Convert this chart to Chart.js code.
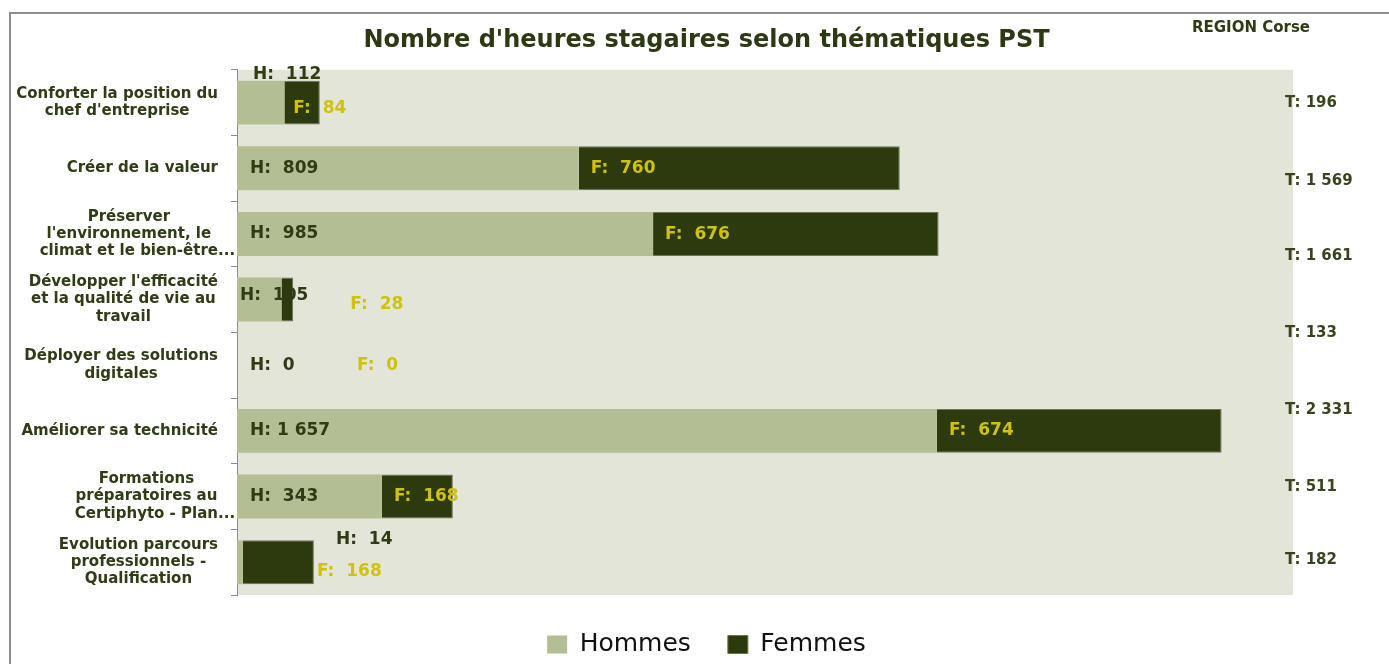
<!DOCTYPE html>
<html>
<head>
<meta charset="utf-8">
<script src="https://cdn.jsdelivr.net/npm/chart.js@4.4.1/dist/chart.umd.min.js"></script>
<style>
  html, body { margin: 0; padding: 0; background: #ffffff; }
  #wrap { position: relative; width: 1389px; height: 664px; overflow: hidden; }
  #frame { position: absolute; left: 9px; top: 12px; right: -10px; bottom: -10px;
           border-top: 2px solid #8e8e8e; border-left: 2px solid #8e8e8e; }
  canvas { position: absolute; left: 0; top: 0; }
</style>
</head>
<body>
<div id="wrap">
  <div id="frame"></div>
  <canvas id="c" width="1389" height="664"></canvas>
</div>
<script>
// ---- data ----
const categories = [
  ["Conforter la position du", "chef d'entreprise"],
  ["Créer de la valeur"],
  ["Préserver", "l'environnement, le", "climat et le bien-être..."],
  ["Développer l'efficacité", "et la qualité de vie au", "travail"],
  ["Déployer des solutions", "digitales"],
  ["Améliorer sa technicité"],
  ["Formations", "préparatoires au", "Certiphyto - Plan..."],
  ["Evolution parcours", "professionnels -", "Qualification"]
];
const seriesNames = ["Hommes", "Femmes"];
const hommes = [112, 809, 985, 105, 0, 1657, 343, 14];
const femmes = [84, 760, 676, 28, 0, 674, 168, 168];
const labelPrefixes = ["H:", "F:", "T:"];
const xMin = 0;
const xMax = 2500;
const chartTitle = "Nombre d'heures stagaires selon thématiques PST";
const regionLabel = "REGION Corse";

// ---- label placement tweaks (pixels, relative to the library-computed bar positions) ----
const hLabelDx = [3, 0, 0, -10, 0, 0, 0, 86];
const hLabelDy = [-28, 0, 0, -4, 0, 0, 0, -23];
const fLabelDx = [-3, 0, 0, 57, 108, 0, 0, 62];
const fLabelDy = [6, 0, 1, 5, 0, 0, 0, 9];
const tLabelDy = [0, 13, 22, 34, 0, -21, -9, -2];

// ---- styles ----
const colH = "#b4be94";
const colF = "#2c3a0e";
const plotBg = "#e3e5d8";
const darkText = "#2e3b15";
const yellowText = "#d0c20c";
const FONT = "'DejaVu Sans', sans-serif";

function fmt(v) {
  const s = String(Math.round(v)).replace(/\B(?=(\d{3})+(?!\d))/g, " ");
  return v < 1000 ? " " + s : s;
}

const decorPlugin = {
  id: "decor",
  beforeDraw(chart) {
    const { ctx, chartArea: a } = chart;
    ctx.save();
    ctx.fillStyle = plotBg;
    ctx.fillRect(a.left, a.top, a.right - a.left, a.bottom - a.top);
    ctx.restore();
  },
  afterDraw(chart) {
    const { ctx, chartArea: a } = chart;
    const yScale = chart.scales.y;
    ctx.save();
    // region label
    ctx.font = "bold 15px " + FONT;
    ctx.fillStyle = darkText;
    ctx.textAlign = "left";
    ctx.textBaseline = "middle";
    ctx.fillText(regionLabel, 1192, 28);

    // category labels: block right-aligned, lines centred within block
    ctx.font = "bold 15px " + FONT;
    ctx.fillStyle = "#2f3c16";
    const rightEdge = a.left - 19;
    const lh = 17.3;
    categories.forEach((lines, i) => {
      const yc = yScale.getPixelForValue(i);
      const core = lines.map(l => ctx.measureText(l.replace(/\.\.\.$/, "")).width);
      const blockW = Math.max(...core);
      const cx = rightEdge - blockW / 2;
      lines.forEach((l, k) => {
        const y = yc + (k - (lines.length - 1) / 2) * lh;
        ctx.textAlign = "left";
        ctx.fillText(l, cx - core[k] / 2, y);
      });
    });

    // data labels
    ctx.font = "bold 17px " + FONT;
    ctx.textAlign = "left";
    const mh = chart.getDatasetMeta(0).data;
    const mf = chart.getDatasetMeta(1).data;
    hommes.forEach((v, i) => {
      const b = mh[i];
      const start = Math.min(b.base, b.x);
      ctx.fillStyle = darkText;
      ctx.fillText(labelPrefixes[0] + " " + fmt(v), start + 13 + hLabelDx[i], b.y + hLabelDy[i]);
    });
    femmes.forEach((v, i) => {
      const b = mf[i];
      const start = Math.min(b.base, b.x);
      ctx.fillStyle = yellowText;
      ctx.fillText(labelPrefixes[1] + " " + fmt(v), start + 12 + fLabelDx[i], b.y + fLabelDy[i]);
    });
    // totals
    ctx.font = "bold 15px " + FONT;
    ctx.fillStyle = "#37441e";
    hommes.forEach((v, i) => {
      const t = v + femmes[i];
      if (t === 0) return;
      const s = String(t).replace(/\B(?=(\d{3})+(?!\d))/g, " ");
      ctx.fillText(labelPrefixes[2] + " " + s, a.right - 8, mh[i].y + tLabelDy[i]);
    });
    ctx.restore();
  }
};

new Chart(document.getElementById("c"), {
  type: "bar",
  data: {
    labels: categories,
    datasets: [
      { label: seriesNames[0], data: hommes, backgroundColor: colH, borderWidth: 0 },
      { label: seriesNames[1], data: femmes, backgroundColor: colF, borderColor: "#6b7650", borderWidth: 1 }
    ]
  },
  options: {
    indexAxis: "y",
    responsive: false,
    animation: false,
    devicePixelRatio: 1,
    datasets: { bar: { barPercentage: 0.67, categoryPercentage: 1.0 } },
    layout: { padding: { left: 120, right: 96, top: 0, bottom: -3 } },
    scales: {
      x: { display: false, stacked: true, min: xMin, max: xMax },
      y: {
        stacked: true,
        afterFit: (s) => { s.width = 117; },
        grid: { display: true, offset: true, drawOnChartArea: false, drawTicks: true, tickLength: 6, color: "#8c8c8c" },
        border: { display: true, color: "#8c8c8c", width: 1 },
        ticks: { display: false }
      }
    },
    plugins: {
      title: {
        display: true,
        text: chartTitle,
        color: "#2b3a12",
        font: { family: FONT, size: 24, weight: "bold", lineHeight: 1.2 },
        padding: { top: 26, bottom: 15 }
      },
      legend: {
        position: "bottom",
        labels: {
          color: "#111111",
          font: { family: FONT, size: 25 },
          boxWidth: 20,
          boxHeight: 18,
          padding: 37
        }
      },
      tooltip: { enabled: false }
    }
  },
  plugins: [decorPlugin]
});
</script>
</body>
</html>
